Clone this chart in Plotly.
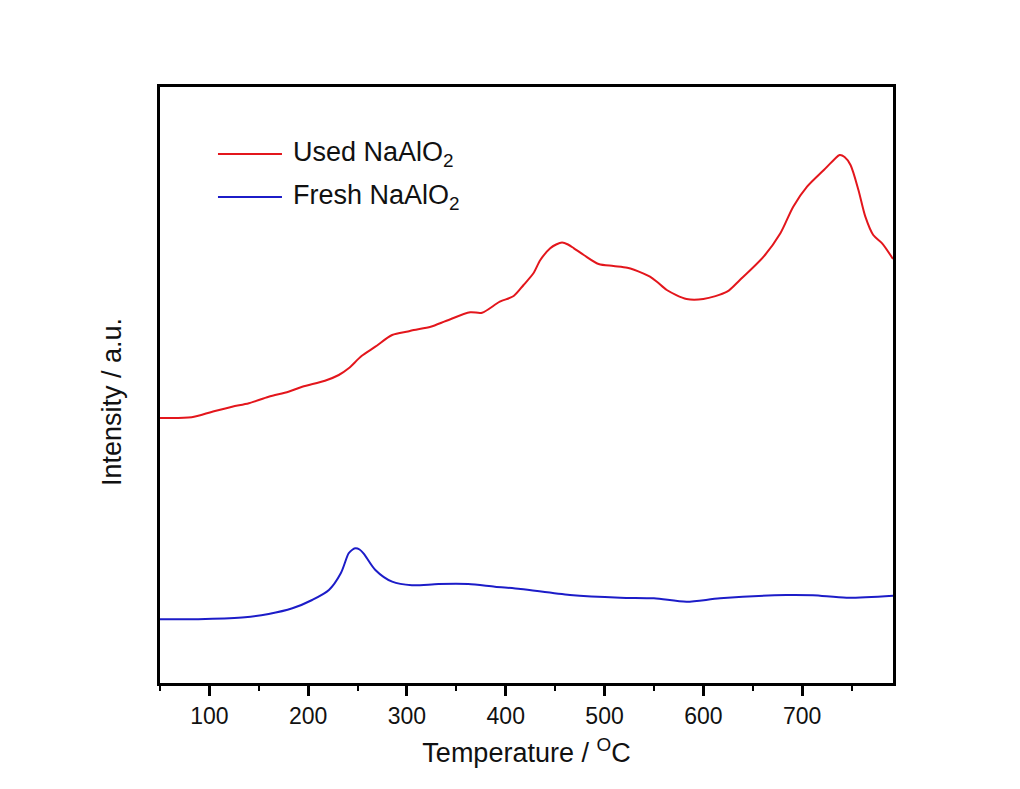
import plotly.graph_objects as go

# Temperature (°C) and intensity (a.u.)
used_T = [50, 82, 103, 123, 140, 160, 180, 194, 217, 231, 241, 254, 268, 285, 301, 307,
          324, 340, 364, 376, 394, 408, 418, 428, 435, 445, 451, 457, 463, 469, 479, 494,
          509, 523, 539, 546, 553, 563, 583, 600, 624, 637, 661, 678, 691, 705, 722, 733,
          738, 743, 749, 757, 764, 772, 781, 792]
used_I = [265, 265.7, 271.3, 276.3, 279.7, 286.3, 291.3, 296.3, 302.3, 308, 314.7, 327,
          336.3, 348, 351.5, 353, 356.3, 362.3, 370.7, 370.3, 381.3, 387, 398, 409.7, 423,
          434.7, 438.5, 440.5, 438.5, 434.7, 428, 419, 417, 415.3, 409.7, 406.3, 401.3, 393,
          384, 384, 391.3, 403, 426.3, 449.7, 476.3, 496.3, 513, 524, 528, 526, 518, 493,
          466.3, 448, 439.7, 424]

fresh_T = [50, 96, 136, 160, 184, 204, 221, 233, 241, 245, 248, 252, 256, 268, 285, 305,
           332, 362, 389, 415, 465, 516, 550, 583, 617, 684, 711, 745, 792]
fresh_I = [63.7, 64, 65.7, 69, 74.7, 83, 93, 109.7, 129.7, 133.5, 134.7, 133.5, 129.7, 113,
           101.3, 97.7, 99, 99, 96.3, 94, 88, 85.3, 84.7, 81.3, 84.7, 88, 87.7, 85.3, 87.3]

series_names = ["Used NaAlO<sub>2</sub>", "Fresh NaAlO<sub>2</sub>"]
series_colors = ["#e3161c", "#1c1cc8"]
x_title = "Temperature / <sup>O</sup>C"
y_title = "Intensity / a.u."

FONT = "Arial, Liberation Sans, sans-serif"

fig = go.Figure()
fig.add_trace(go.Scatter(x=used_T, y=used_I, mode="lines", name=series_names[0],
                         line=dict(color=series_colors[0], width=2, shape="spline", smoothing=0.8)))
fig.add_trace(go.Scatter(x=fresh_T, y=fresh_I, mode="lines", name=series_names[1],
                         line=dict(color=series_colors[1], width=2, shape="spline", smoothing=0.8)))

# legend drawn manually (long sample lines as in the reference)
leg_y = [0.8876, 0.8154]
for name, col, yy in zip(series_names, series_colors, leg_y):
    fig.add_shape(type="line", xref="paper", yref="paper", x0=0.0791, x1=0.1664,
                  y0=yy, y1=yy, line=dict(color=col, width=2))
    fig.add_annotation(xref="paper", yref="paper", x=0.1787, y=yy, text=name,
                       showarrow=False, xanchor="left", yanchor="middle",
                       font=dict(family=FONT, size=27, color="#111"))

fig.add_annotation(xref="paper", yref="paper", x=-0.0655, y=0.4715, text=y_title,
                   textangle=-90, showarrow=False, xanchor="center", yanchor="middle",
                   font=dict(family=FONT, size=27, color="#111"))

fig.update_layout(
    width=1020, height=789,
    margin=dict(l=160, r=127, t=87, b=106),
    paper_bgcolor="white", plot_bgcolor="white",
    showlegend=False,
    font=dict(family=FONT, color="#111"),
)
fig.update_xaxes(
    range=[50, 792], tick0=0, dtick=100,
    showline=True, linecolor="black", linewidth=3, mirror=True,
    ticks="outside", ticklen=10, tickwidth=2.5, tickcolor="black",
    minor=dict(ticks="outside", ticklen=5, tickwidth=2, tickcolor="black", dtick=50, tick0=0),
    showgrid=False, zeroline=False,
    tickfont=dict(family=FONT, size=23, color="#111"),
    title=dict(text=x_title, font=dict(family=FONT, size=27, color="#111"), standoff=16),
)
fig.update_yaxes(
    range=[0, 596],
    showline=True, linecolor="black", linewidth=3, mirror=True,
    ticks="", showticklabels=False, showgrid=False, zeroline=False,
)

fig.write_html("out.html")
